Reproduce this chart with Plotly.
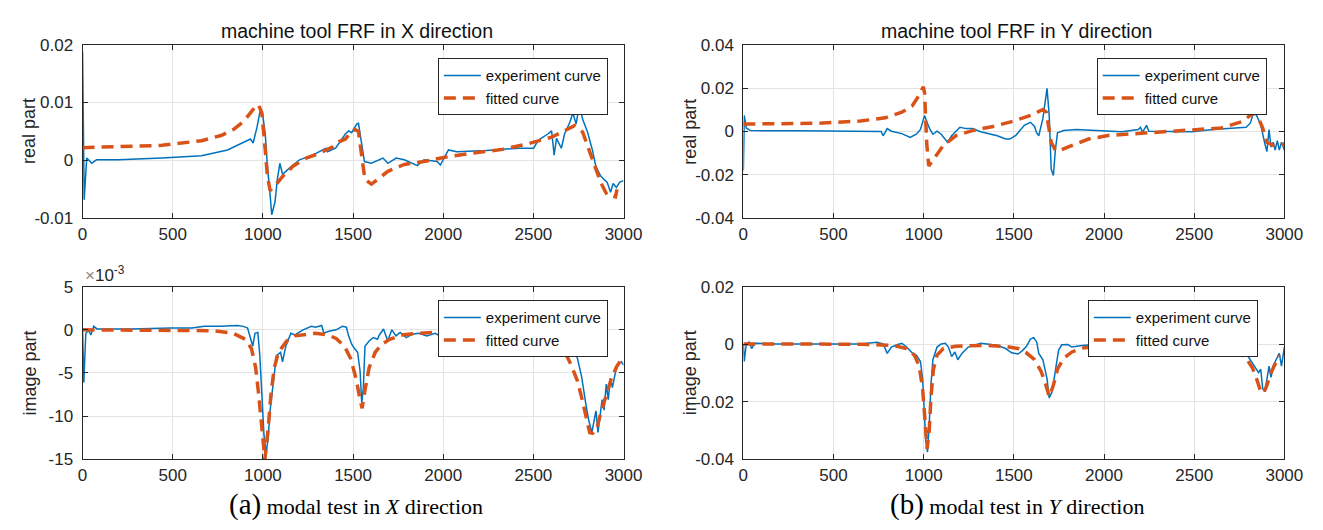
import plotly.graph_objects as go

# ---------------- data ----------------
# X direction, real part
fx_re_exp = [0, 9, 23, 51, 77, 200, 441, 659, 804, 858, 904, 931, 946, 967, 985, 998, 1013, 1025, 1040,
             1049, 1067, 1080, 1094, 1109, 1149, 1203, 1276, 1349, 1358, 1403, 1458, 1476, 1492, 1521, 1530,
             1548, 1563, 1602, 1639, 1666, 1693, 1739, 1784, 1857, 1893, 1966, 1984, 2011, 2029, 2075, 2238,
             2419, 2501, 2528, 2555, 2582, 2601, 2615, 2628, 2655, 2673, 2701, 2719, 2737, 2755, 2773, 2800,
             2827, 2846, 2873, 2909, 2928, 2942, 2960, 2978, 3000]
x_re_exp = [0.0188, -0.0068, 0.0004, -0.0005, 0.0001, 0.0001, 0.0004, 0.0008, 0.0018, 0.0026, 0.0032, 0.0037,
            0.0030, 0.0057, 0.0086, 0.0081, 0.0046, -0.0010, -0.0060, -0.0094, -0.0072, -0.0033, -0.0005,
            -0.0024, -0.0013, 0.0001, 0.0009, 0.0021, 0.0015, 0.0021, 0.0046, 0.0051, 0.0048, 0.0063, 0.0064,
            0.0029, -0.0002, -0.0005, 0.0000, 0.0004, -0.0005, 0.0004, 0.0001, -0.0009, 0.0001, -0.0002,
            -0.0008, 0.0007, 0.0018, 0.0015, 0.0017, 0.0021, 0.0021, 0.0035, 0.0040, 0.0046, 0.0051, 0.0009,
            0.0038, 0.0021, 0.0046, 0.0065, 0.0082, 0.0063, 0.0096, 0.0071, 0.0049, 0.0018, -0.0010, -0.0027,
            -0.0038, -0.0055, -0.0040, -0.0047, -0.0038, -0.0035]
fx_re_fit = [0, 441, 659, 768, 840, 895, 931, 958, 976, 994, 1013, 1025, 1040, 1067, 1112, 1167, 1240, 1312,
             1385, 1421, 1458, 1494, 1512, 1530, 1548, 1566, 1602, 1693, 1784, 1893, 2002, 2147, 2329, 2474,
             2601, 2692, 2728, 2773, 2810, 2846, 2873, 2909, 2955, 2964]
x_re_fit = [0.0022, 0.0026, 0.0034, 0.0043, 0.0054, 0.0068, 0.0082, 0.0093, 0.0096, 0.0082, 0.0018, -0.0027,
            -0.0052, -0.0044, -0.0027, -0.0010, 0.0004, 0.0012, 0.0023, 0.0032, 0.0037, 0.0051, 0.0053,
            0.0050, 0.0007, -0.0033, -0.0041, -0.0019, -0.0007, -0.0002, 0.0005, 0.0012, 0.0019, 0.0029,
            0.0040, 0.0054, 0.0060, 0.0049, 0.0018, -0.0016, -0.0038, -0.0060, -0.0063, -0.0050]

# Y direction, real part
fy_re_exp = [0, 5, 16, 39, 300, 764, 775, 798, 821, 879, 925, 959, 982, 1005, 1017, 1035, 1051, 1074, 1097,
             1132, 1155, 1201, 1235, 1270, 1316, 1362, 1408, 1454, 1477, 1511, 1558, 1592, 1615, 1626, 1638,
             1661, 1684, 1696, 1707, 1719, 1730, 1742, 1776, 1845, 2029, 2098, 2190, 2202, 2213, 2236, 2248,
             2374, 2489, 2604, 2719, 2788, 2811, 2830, 2846, 2869, 2892, 2903, 2915, 2926, 2938, 2949, 2961,
             2972, 2984, 3000]
y_re_exp = [-0.018, 0.0074, 0.0016, 0.0004, 0.0003, 0.0, -0.002, 0.0013, 0.0001, -0.001, -0.0028, -0.0013,
            0.0009, 0.0074, 0.0045, 0.0009, -0.0013, 0.0001, -0.0013, -0.005, -0.002, 0.0019, 0.0013, 0.0013,
            -0.0001, -0.001, -0.002, -0.0035, -0.0035, -0.0018, 0.0028, 0.0042, 0.0023, -0.0006, -0.002,
            0.006, 0.0199, 0.0074, -0.0174, -0.0203, -0.0086, -0.0006, 0.0004, 0.0009, 0.0004, -0.0001,
            0.0009, 0.0019, -0.0004, 0.0028, 0.0001, 0.0001, -0.0001, 0.0009, 0.0016, 0.0019, 0.0038, 0.0089,
            0.0074, 0.0031, -0.0057, -0.0093, 0.0009, -0.0072, -0.005, -0.0086, -0.0042, -0.0086, -0.005,
            -0.0086]
fy_re_fit = [0, 419, 649, 787, 879, 936, 971, 998, 1005, 1017, 1028, 1051, 1109, 1178, 1270, 1385, 1500, 1592,
             1661, 1680, 1696, 1707, 1730, 1753, 1799, 1914, 2029, 2259, 2489, 2650, 2765, 2811, 2839, 2857,
             2880, 2903, 2938, 2972, 3000]
y_re_fit = [0.0034, 0.0038, 0.0048, 0.0063, 0.0089, 0.0118, 0.0162, 0.0206, 0.0177, -0.0057, -0.0159, -0.013,
            -0.0064, -0.002, 0.0004, 0.0023, 0.0048, 0.0074, 0.0101, 0.0089, 0.0010, -0.005, -0.0086,
            -0.0089, -0.0072, -0.0035, -0.0018, -0.0006, 0.0004, 0.0016, 0.0045, 0.0074, 0.0086, 0.006,
            0.0016, -0.005, -0.0064, -0.0064, -0.0057]

# X direction, imaginary part (units of 1e-3)
fx_im_exp = [0, 7, 18, 34, 46, 62, 80, 263, 492, 606, 675, 766, 857, 892, 915, 933, 944, 956, 972, 983, 995,
             1006, 1018, 1029, 1040, 1059, 1075, 1098, 1109, 1127, 1155, 1178, 1223, 1269, 1292, 1326, 1338,
             1361, 1406, 1441, 1463, 1475, 1493, 1509, 1525, 1539, 1548, 1557, 1566, 1589, 1612, 1635, 1646,
             1669, 1692, 1715, 1738, 1761, 1795, 1829, 1864, 1909, 1955, 1989, 2100, 2250, 2400, 2550, 2650,
             2700, 2721, 2744, 2767, 2790, 2806, 2824, 2835, 2847, 2858, 2870, 2881, 2892, 2904, 2915, 2927,
             2938, 2956, 2972, 2988, 3000]
x_im_exp = [0.0, -6.1, -0.4, -0.1, -0.6, 0.4, 0.1, 0.1, 0.2, 0.2, 0.4, 0.4, 0.5, 0.4, 0.2, -1.1, -1.9, -0.4,
            -0.3, -3.0, -7.4, -12.2, -14.3, -12.6, -9.3, -5.6, -3.0, -2.6, -3.7, -1.9, -0.4, -0.6, 0.0, 0.4,
            0.3, 0.5, -0.4, -0.2, 0.0, 0.4, 0.3, -0.7, -1.7, -2.2, -2.6, -4.8, -8.5, -6.7, -1.9, -1.3, -0.9,
            -1.1, -0.6, 0.1, -1.3, 0.0, -0.7, -0.3, -0.9, -0.5, -0.4, -0.7, -0.4, -0.8, -0.4, -0.3, -0.5,
            -0.4, -0.6, -1.0, -1.9, -3.3, -5.4, -8.5, -10.4, -11.9, -10.7, -9.4, -11.9, -10.0, -8.1, -9.3,
            -6.3, -8.1, -5.6, -6.7, -4.8, -3.9, -3.7, -4.1]
fx_im_fit = [0, 492, 720, 835, 903, 937, 960, 976, 995, 1011, 1029, 1045, 1063, 1086, 1132, 1178, 1292, 1361,
             1406, 1452, 1486, 1516, 1539, 1550, 1566, 1589, 1623, 1658, 1703, 1772, 1864, 1955, 2200, 2450,
             2641, 2675, 2710, 2744, 2767, 2790, 2812, 2828, 2851, 2874, 2904, 2933, 2961, 3000]
x_im_fit = [0.0, 0.0, -0.1, -0.4, -1.1, -2.2, -4.4, -7.4, -11.5, -15.0, -11.5, -7.4, -4.4, -2.6, -1.3, -0.7,
            -0.4, -0.6, -1.0, -1.9, -3.3, -5.6, -8.1, -9.1, -7.0, -4.4, -2.6, -1.7, -1.1, -0.6, -0.4, -0.3,
            -0.3, -0.5, -1.5, -2.6, -4.1, -5.9, -7.8, -10.0, -11.9, -12.0, -11.5, -9.6, -7.4, -5.6, -4.3,
            -3.0]

# Y direction, imaginary part
fy_im_exp = [0, 5, 16, 32, 46, 62, 189, 649, 741, 775, 798, 821, 856, 879, 902, 936, 959, 982, 994, 1005,
             1012, 1021, 1031, 1040, 1051, 1074, 1097, 1120, 1137, 1155, 1173, 1189, 1212, 1247, 1281, 1316,
             1350, 1408, 1454, 1488, 1523, 1546, 1569, 1592, 1610, 1627, 1638, 1661, 1684, 1696, 1712, 1730,
             1748, 1765, 1799, 1822, 1868, 1937, 1983, 2100, 2190, 2300, 2500, 2673, 2719, 2788, 2834, 2857,
             2869, 2880, 2892, 2903, 2915, 2926, 2938, 2954, 2972, 2984, 2991, 3000]
y_im_exp = [0.0, -0.006, 0.0001, 0.0007, -0.0015, 0.0003, 0.0001, 0.0001, 0.0007, 0.0001, -0.0032, -0.001,
            -0.0001, 0.0003, -0.0008, -0.003, -0.0038, -0.006, -0.012, -0.0253, -0.034, -0.0375, -0.0276,
            -0.0143, -0.0054, -0.001, 0.0001, 0.0003, -0.001, -0.0043, -0.0027, -0.0054, -0.0032, -0.001,
            -0.0004, 0.0003, 0.0001, -0.0004, -0.0015, -0.003, -0.0034, -0.0023, -0.0008, 0.0018, 0.0023,
            0.0007, -0.0032, -0.0054, -0.012, -0.0187, -0.0165, -0.0099, -0.0021, -0.0002, -0.0001, -0.001,
            -0.0005, -0.0001, 0.0001, 0.0, -0.001, 0.0, 0.0001, -0.0001, -0.001, -0.0032, -0.0076, -0.0099,
            -0.0087, -0.0154, -0.0165, -0.012, -0.0076, -0.0115, -0.0076, -0.0054, -0.0032, -0.0076, -0.0043,
            -0.001]
fy_im_fit = [0, 649, 833, 902, 948, 975, 994, 1008, 1019, 1031, 1040, 1054, 1074, 1109, 1178, 1339, 1454, 1523,
             1569, 1615, 1650, 1673, 1696, 1719, 1742, 1776, 1822, 1891, 1983, 2300, 2535, 2673, 2731, 2788,
             2823, 2846, 2869, 2885, 2903, 2926, 2949, 2972]
y_im_fit = [0.0001, 0.0, -0.0004, -0.0015, -0.0038, -0.0076, -0.0154, -0.0276, -0.0364, -0.0298, -0.0187,
            -0.0087, -0.0038, -0.0015, -0.0007, -0.0004, -0.0008, -0.0015, -0.003, -0.0054, -0.0093, -0.0132,
            -0.0182, -0.0143, -0.0087, -0.0049, -0.0027, -0.0012, -0.0008, -0.0003, -0.0004, -0.001, -0.0021,
            -0.0049, -0.0082, -0.012, -0.0165, -0.017, -0.0143, -0.0099, -0.0065, -0.0038]

x_ticks = [0, 500, 1000, 1500, 2000, 2500, 3000]
y_ticks_x_re = [-0.01, 0, 0.01, 0.02]
y_ticklabels_x_re = ["-0.01", "0", "0.01", "0.02"]
y_ticks_y_re = [-0.04, -0.02, 0, 0.02, 0.04]
y_ticklabels_y_re = ["-0.04", "-0.02", "0", "0.02", "0.04"]
y_ticks_x_im = [-15, -10, -5, 0, 5]
y_ticklabels_x_im = ["-15", "-10", "-5", "0", "5"]
y_ticks_y_im = [-0.04, -0.02, 0, 0.02]
y_ticklabels_y_im = ["-0.04", "-0.02", "0", "0.02"]

titles = ["machine tool FRF in X direction", "machine tool FRF in Y direction"]
series_names = ["experiment curve", "fitted curve"]

# ---------------- styling ----------------
W, H = 1323, 530
BLUE = "#0072BD"
ORANGE = "#D95319"
AX = "#262626"
GRID = "#e3e3e3"
FONT = "Liberation Sans, Arial, sans-serif"


def px_x(p):
    return p / W


def px_y(p):
    return 1 - p / H


cols = [(79, 630), (752, 1303)]
rows = [(37, 217), (288, 467)]
title_x = [358, 1030]

panels = [
    # (row, col, f_exp, v_exp, f_fit, v_fit, yrange, yticks, yticklabels, ylabel, legend right px)
    (0, 0, fx_re_exp, x_re_exp, fx_re_fit, x_re_fit, [-0.01, 0.02], y_ticks_x_re, y_ticklabels_x_re, "real part", 614),
    (0, 1, fy_re_exp, y_re_exp, fy_re_fit, y_re_fit, [-0.04, 0.04], y_ticks_y_re, y_ticklabels_y_re, "real part", 1285),
    (1, 0, fx_im_exp, x_im_exp, fx_im_fit, x_im_fit, [-15, 5], y_ticks_x_im, y_ticklabels_x_im, "image part", 614),
    (1, 1, fy_im_exp, y_im_exp, fy_im_fit, y_im_fit, [-0.04, 0.02], y_ticks_y_im, y_ticklabels_y_im, "image part", 1276),
]

fig = go.Figure()
layout = dict(
    width=W, height=H, margin=dict(l=0, r=0, t=0, b=0),
    paper_bgcolor="white", plot_bgcolor="white",
    font=dict(family=FONT, color=AX, size=17),
    annotations=[],
)

for i, (r, c, fe, ve, ff, vf, yr, yt, ytl, ylab, leg_r) in enumerate(panels):
    n = i + 1
    xa = "x" if n == 1 else f"x{n}"
    ya = "y" if n == 1 else f"y{n}"
    leg = "legend" if n == 1 else f"legend{n}"
    fig.add_trace(go.Scatter(x=fe, y=ve, mode="lines", name=series_names[0],
                             line=dict(color=BLUE, width=1.5), xaxis=xa, yaxis=ya, legend=leg))
    fig.add_trace(go.Scatter(x=ff, y=vf, mode="lines", name=series_names[1],
                             line=dict(color=ORANGE, width=3.5, dash="12px,7px"),
                             xaxis=xa, yaxis=ya, legend=leg))
    x0, x1 = cols[c]
    y0, y1 = rows[r]
    common = dict(showline=True, linecolor=AX, linewidth=1, mirror="ticks", ticks="inside",
                  ticklen=5, tickcolor=AX, showgrid=True, gridcolor=GRID, gridwidth=1,
                  zeroline=False, tickfont=dict(size=17, color=AX, family=FONT))
    layout[f"xaxis{'' if n == 1 else n}"] = dict(
        domain=[px_x(x0), px_x(x1)], anchor=ya, range=[0, 3000], tickvals=x_ticks, **common)
    layout[f"yaxis{'' if n == 1 else n}"] = dict(
        domain=[px_y(y1), px_y(y0)], anchor=xa, range=yr, tickvals=yt, ticktext=ytl,
        ticklabelstandoff=5, **common)
    layout[leg] = dict(
        x=px_x(leg_r), y=px_y(y0 + 14), xanchor="right", yanchor="top",
        bgcolor="white", bordercolor=AX, borderwidth=1,
        font=dict(size=15, color="#111", family=FONT), tracegroupgap=0,
        itemwidth=37,
    )
    # y-axis label
    layout["annotations"].append(dict(
        text=ylab, xref="paper", yref="paper", x=px_x(x0 - 54), y=px_y((y0 + y1) / 2),
        textangle=-90, showarrow=False, xanchor="center", yanchor="middle",
        font=dict(size=18, color=AX, family=FONT)))
    if r == 0:
        layout["annotations"].append(dict(
            text=titles[c], xref="paper", yref="paper", x=px_x(title_x[c]), y=px_y(23),
            showarrow=False, xanchor="center", yanchor="middle",
            font=dict(size=19.5, color="#111", family=FONT)))

# exponent marker for the X imaginary axis
layout["annotations"].append(dict(
    text="<span style='color:#888'>×</span>10<sup>-3</sup>", xref="paper", yref="paper",
    x=px_x(79), y=px_y(288), xanchor="left", yanchor="bottom", showarrow=False,
    font=dict(size=17, color=AX, family=FONT)))

# sub-figure captions
captions = ["<span style='font-size:29px'>(a)</span> modal test in <i>X</i> direction",
            "<span style='font-size:29px'>(b)</span> modal test in <i>Y</i> direction"]
for c, cap in enumerate(captions):
    x0, x1 = cols[c]
    layout["annotations"].append(dict(
        text=cap, xref="paper", yref="paper", x=px_x((x0 + x1) / 2 + 3), y=px_y(514),
        showarrow=False, xanchor="center", yanchor="middle",
        font=dict(size=22, color="#000", family="Liberation Serif, Times New Roman, serif")))

fig.update_layout(**layout)
fig.write_html("out.html")
